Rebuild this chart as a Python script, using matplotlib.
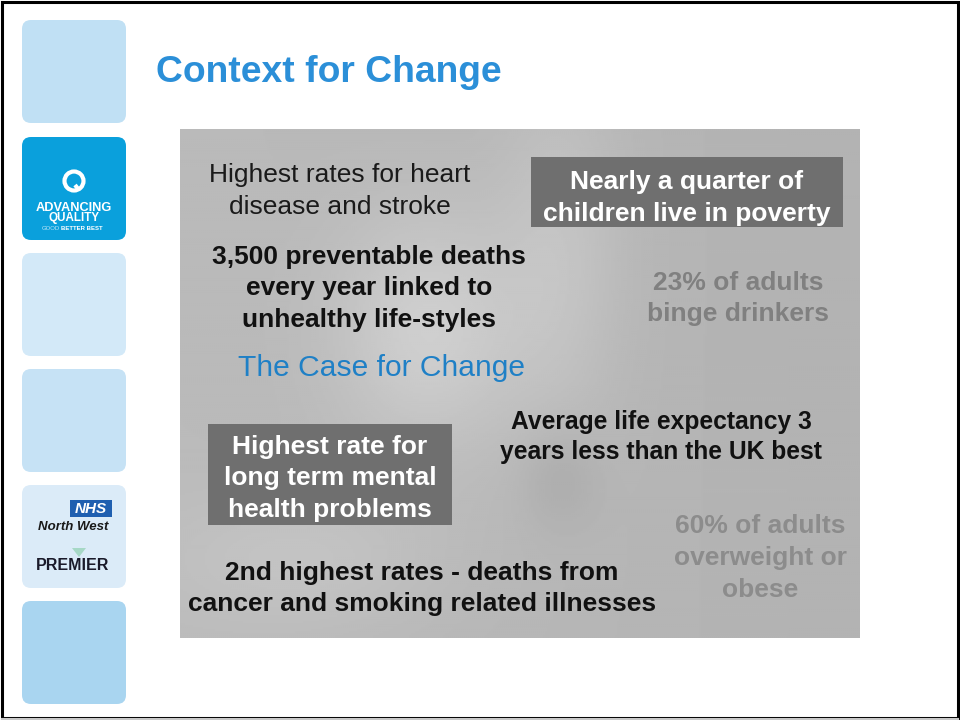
import numpy as np
import matplotlib
matplotlib.use('Agg')
import matplotlib.pyplot as plt
from matplotlib.patches import FancyBboxPatch, Rectangle, Circle, Polygon

plt.rcParams['font.family'] = ['Liberation Sans', 'DejaVu Sans']

# Slide text
title = 'Context for Change'
heart_lines = ['Highest rates for heart', 'disease and stroke']
poverty_lines = ['Nearly a quarter of', 'children live in poverty']
deaths_lines = ['3,500 preventable deaths', 'every year linked to', 'unhealthy life-styles']
binge_lines = ['23% of adults', 'binge drinkers']
case_lines = ['The Case for Change']
life_lines = ['Average life expectancy 3', 'years less than the UK best']
mental_lines = ['Highest rate for', 'long term mental', 'health problems']
obese_lines = ['60% of adults', 'overweight or', 'obese']
cancer_lines = ['2nd highest rates - deaths from', 'cancer and smoking related illnesses']

# sidebar tile colours, top to bottom
tile_colors = ['#c0e0f4', '#0aa0dc', '#d3e9f8', '#c6e2f5', '#dbebf8', '#a9d5f0']

fig = plt.figure(figsize=(9.6, 7.2), dpi=100)
ax = fig.add_axes([0, 0, 1, 1])
ax.set_xlim(0, 960)
ax.set_ylim(720, 0)
ax.axis('off')

# slide frame
ax.add_patch(Rectangle((1.5, 1.5), 956.5, 716, fill=False, ec='black', lw=2.2))
ax.plot([2, 958], [718.5, 718.5], color='#c8c8c8', lw=1.5)

# sidebar tiles
tile_tops = [20, 137, 253, 369, 485, 601]
for top, col in zip(tile_tops, tile_colors):
    ax.add_patch(FancyBboxPatch((22, top), 104, 103, boxstyle='round,pad=0,rounding_size=9',
                                fc=col, ec='none'))

# Advancing Quality logo
ax.add_patch(Circle((74, 181), 9.5, fill=False, ec='white', lw=3.0))
ax.plot([75, 79], [185, 190], color='white', lw=3.0, solid_capstyle='butt')
ax.text(74, 208, 'ADVANCING', color='white', fontsize=9.2, fontweight='bold', ha='center', va='center')
ax.text(74, 218.5, 'QUALITY', color='white', fontsize=8.4, fontweight='bold', ha='center', va='center')
ax.text(60, 229, 'GOOD', color='#bfe6f8', fontsize=4.3, ha='right', va='center')
ax.text(61, 229, 'BETTER BEST', color='white', fontsize=4.3, fontweight='bold', ha='left', va='center')

# NHS North West / Premier logo
ax.add_patch(Rectangle((70, 500), 42, 17, fc='#1f5fb0', ec='none'))
ax.text(91, 509, 'NHS', color='white', fontsize=11, fontweight='bold', style='italic', ha='center', va='center')
ax.text(73, 527, 'North West', color='#1a1a1a', fontsize=9.5, fontweight='bold', style='italic', ha='center', va='center')
ax.add_patch(Polygon([[72, 548], [86, 548], [79, 557]], fc='#a6d8c6', ec='none'))
ax.text(73, 565, 'PREMIER', color='#1a1a2a', fontsize=11.5, fontweight='bold', ha='center', va='center')

# title
ax.text(156, 73, title, color='#2b8fd8', fontsize=26.8, fontweight='bold', ha='left', va='center')

# grey photo panel
px0, px1, py0, py1 = 180, 860, 129, 638
xs = np.linspace(px0, px1, 340)
ys = np.linspace(py0, py1, 255)
X, Y = np.meshgrid(xs, ys)
shade = 0.73 - 0.03 * (X - px0) / (px1 - px0)
shade += 0.09 * np.exp(-((X - 430) ** 2 / 9000 + (Y - 330) ** 2 / 14000))
shade += 0.05 * np.exp(-((X - 560) ** 2 / 4000 + (Y - 250) ** 2 / 30000))
shade += 0.04 * np.exp(-((X - 300) ** 2 / 20000 + (Y - 560) ** 2 / 5000))
shade -= 0.04 * np.exp(-((X - 560) ** 2 / 1500 + (Y - 480) ** 2 / 2500))
ax.imshow(np.clip(shade, 0, 1), cmap='gray', vmin=0, vmax=1, extent=(px0, px1, py1, py0),
          aspect='auto', interpolation='bilinear', zorder=1)

# dark callout boxes
ax.add_patch(Rectangle((531, 157), 312, 70, fc='#6f6f6f', ec='none', zorder=2))
ax.add_patch(Rectangle((208, 424), 244, 101, fc='#6f6f6f', ec='none', zorder=2))


def block(lines, cx, y0, color, bold=True, step=31.5, size=19):
    for i, s in enumerate(lines):
        ax.text(cx, y0 + 2 + i * step, s, color=color, fontsize=size,
                fontweight='bold' if bold else 'normal', ha='center', va='center', zorder=3)


block(heart_lines, 340, 173, '#1a1a1a', bold=False)
block(poverty_lines, 687, 180, 'white')
block(deaths_lines, 369, 255, '#111111')
block(binge_lines, 738, 281, '#808080')
block(case_lines, 382, 366, '#1f80c6', bold=False, size=21.6)
block(life_lines, 661, 420, '#111111', step=30, size=17.7)
block(mental_lines, 330, 445, 'white')
block(obese_lines, 760, 524, '#8c8c8c', step=32)
block(cancer_lines, 422, 571, '#111111')

fig.savefig('out.png', dpi=100)
